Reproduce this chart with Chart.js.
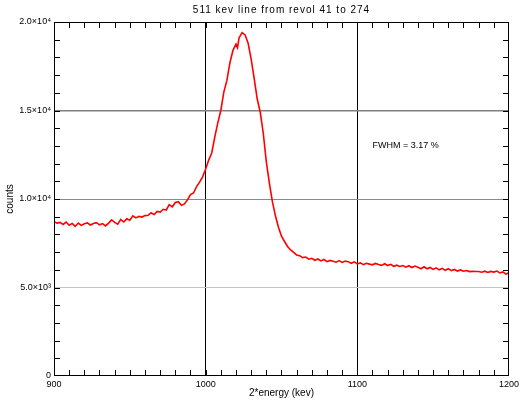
<!DOCTYPE html>
<html>
<head>
<meta charset="utf-8">
<script src="https://cdn.jsdelivr.net/npm/chart.js@4/dist/chart.umd.min.js"></script>
<style>
html,body{margin:0;padding:0;background:#fff;}
#wrap{width:522px;height:401px;}
</style>
</head>
<body>
<div id="wrap"><canvas id="c" width="522" height="401"></canvas></div>
<script>
// ---- data ----
const energyLow = [900,902,904,906,908,910,912,914,916,918,920,922,924,926,928,930,932,934,936,938,940,942,944,946,948,950,952,954,956,958,960,962,964,966,968,970,972,974,976,978,980,982,984,986,988,990];
const countsLow = [8720,8640,8680,8560,8700,8520,8620,8450,8640,8510,8600,8650,8530,8620,8660,8540,8610,8480,8640,8820,8680,8580,8850,8700,8880,8800,9050,8930,9020,8980,9060,9080,9220,9120,9300,9260,9420,9380,9680,9560,9800,9850,9640,9720,9950,10250];
const energyPeak = [992,994,996,998,1000,1002,1004,1006,1008,1010,1012,1014,1016,1018,1020,1021,1022,1024,1026,1028,1030,1032,1034,1036,1038,1040,1042,1044,1046,1048,1050,1052,1054];
const countsPeak = [10340,10700,10950,11250,11700,12200,12600,13500,14300,15000,16050,16700,17700,18400,18750,18550,19100,19400,19270,18800,17900,16800,15650,14900,13700,12100,10900,9850,9050,8400,7900,7600,7320];
const energyTail = [1056,1058,1060,1062,1064,1066,1068,1070,1072,1074,1076,1078,1080,1082,1084,1086,1088,1090,1092,1094,1096,1098,1100,1102,1104,1106,1108,1110,1112,1114,1116,1118,1120,1122,1124,1126,1128,1130,1132,1134,1136,1138,1140,1142,1144,1146,1148,1150,1152,1154,1156,1158,1160,1162,1164,1166,1168,1170,1172,1174,1176,1178,1180,1182,1184,1186,1188,1190,1192,1194,1196,1198,1200];
const countsTail = [7120,6980,6840,6800,6690,6720,6600,6650,6540,6610,6500,6580,6460,6530,6480,6430,6520,6420,6490,6460,6370,6450,6330,6390,6290,6370,6320,6280,6360,6300,6250,6340,6240,6310,6200,6260,6190,6240,6150,6230,6130,6210,6140,6060,6170,6060,6130,6020,6110,6000,6080,5970,6060,5950,6020,5930,5990,5920,5960,5900,5910,5900,5900,5860,5920,5850,5910,5870,5930,5820,5880,5760,5830];

const xTicks = [900, 1000, 1100, 1200];
const yTicks = [0, 5000, 10000, 15000, 20000];
const yTickLabels = ['0', '5.0×10³', '1.0×10⁴', '1.5×10⁴', '2.0×10⁴'];
const titleText = '511 kev line from revol 41 to 274';
const xTitle = '2*energy (kev)';
const yTitle = 'counts';
const noteText = 'FWHM = 3.17 %';
const noteAt = {x: 1110, y: 13000};

const energies = energyLow.concat(energyPeak, energyTail);
const counts = countsLow.concat(countsPeak, countsTail);
const points = energies.map((e, i) => ({x: e, y: counts[i]}));

const FONT = '"Liberation Sans", Arial, sans-serif';

const decor = {
  id: 'decor',
  afterDatasetsDraw(chart) {
    const {ctx, chartArea: a, scales: {x, y}} = chart;
    ctx.save();
    // frame
    ctx.strokeStyle = '#000';
    ctx.lineWidth = 1;
    ctx.strokeRect(a.left + 0.5, a.top + 0.5, a.right - a.left - 1, a.bottom - a.top - 1);
    // minor ticks
    ctx.beginPath();
    for (let e = 910; e < 1200; e += 10) {
      const px = Math.round(x.getPixelForValue(e)) + 0.5;
      ctx.moveTo(px, a.bottom); ctx.lineTo(px, a.bottom - 6);
      ctx.moveTo(px, a.top); ctx.lineTo(px, a.top + 6);
    }
    for (let v = 1000; v < 20000; v += 1000) {
      const py = Math.round(y.getPixelForValue(v)) + 0.5;
      ctx.moveTo(a.left, py); ctx.lineTo(a.left + 6, py);
      ctx.moveTo(a.right, py); ctx.lineTo(a.right - 6, py);
    }
    ctx.stroke();
    // texts
    ctx.fillStyle = '#000';
    ctx.font = '10px ' + FONT;
    ctx.textAlign = 'center';
    ctx.textBaseline = 'middle';
    ctx.letterSpacing = '1px';
    ctx.fillText(titleText, (a.left + a.right) / 2, 10);
    ctx.letterSpacing = '0px';
    ctx.fillText(xTitle, (a.left + a.right) / 2, 393);
    ctx.save();
    ctx.translate(10, (a.top + a.bottom) / 2);
    ctx.rotate(-Math.PI / 2);
    ctx.fillText(yTitle, 0, 0);
    ctx.restore();
    ctx.font = '9px ' + FONT;
    ctx.textAlign = 'left';
    ctx.fillText(noteText, x.getPixelForValue(noteAt.x), y.getPixelForValue(noteAt.y));
    ctx.restore();
  }
};

new Chart(document.getElementById('c'), {
  type: 'line',
  data: {
    datasets: [{
      data: points,
      borderColor: '#ff0000',
      borderWidth: 1.6,
      pointRadius: 0,
      tension: 0,
      fill: false
    }]
  },
  options: {
    responsive: false,
    animation: false,
    devicePixelRatio: 1,
    layout: {padding: {left: 0, right: 9, top: 22, bottom: 0}},
    plugins: {legend: {display: false}, tooltip: {enabled: false}, title: {display: false}},
    scales: {
      x: {
        type: 'linear', min: 900, max: 1200,
        afterBuildTicks(s) { s.ticks = xTicks.map(v => ({value: v})); },
        afterFit(s) { s.height = 25; },
        border: {display: false},
        grid: {
          drawTicks: false,
          color: c => (c.tick && (c.tick.value === 1000 || c.tick.value === 1100)) ? '#000' : 'rgba(0,0,0,0)',
          lineWidth: 1
        },
        ticks: {
          padding: 3, color: '#000', maxRotation: 0, autoSkip: false,
          font: {family: FONT, size: 9},
          callback: v => String(v)
        }
      },
      y: {
        type: 'linear', min: 0, max: 20000,
        afterBuildTicks(s) { s.ticks = yTicks.map(v => ({value: v})); },
        afterFit(s) { s.width = 54; },
        border: {display: false},
        grid: {
          drawTicks: false,
          color: c => {
            const v = c.tick && c.tick.value;
            if (v === 5000) return '#c4c4c4';
            if (v === 10000) return '#8a8a8a';
            if (v === 15000) return '#808080';
            return 'rgba(0,0,0,0)';
          },
          lineWidth: c => (c.tick && c.tick.value === 15000) ? 1.5 : 1
        },
        ticks: {
          padding: 3, color: '#000', autoSkip: false,
          font: {family: FONT, size: 9},
          callback: v => { const i = yTicks.indexOf(v); return i >= 0 ? yTickLabels[i] : ''; }
        }
      }
    }
  },
  plugins: [decor]
});
</script>
</body>
</html>
